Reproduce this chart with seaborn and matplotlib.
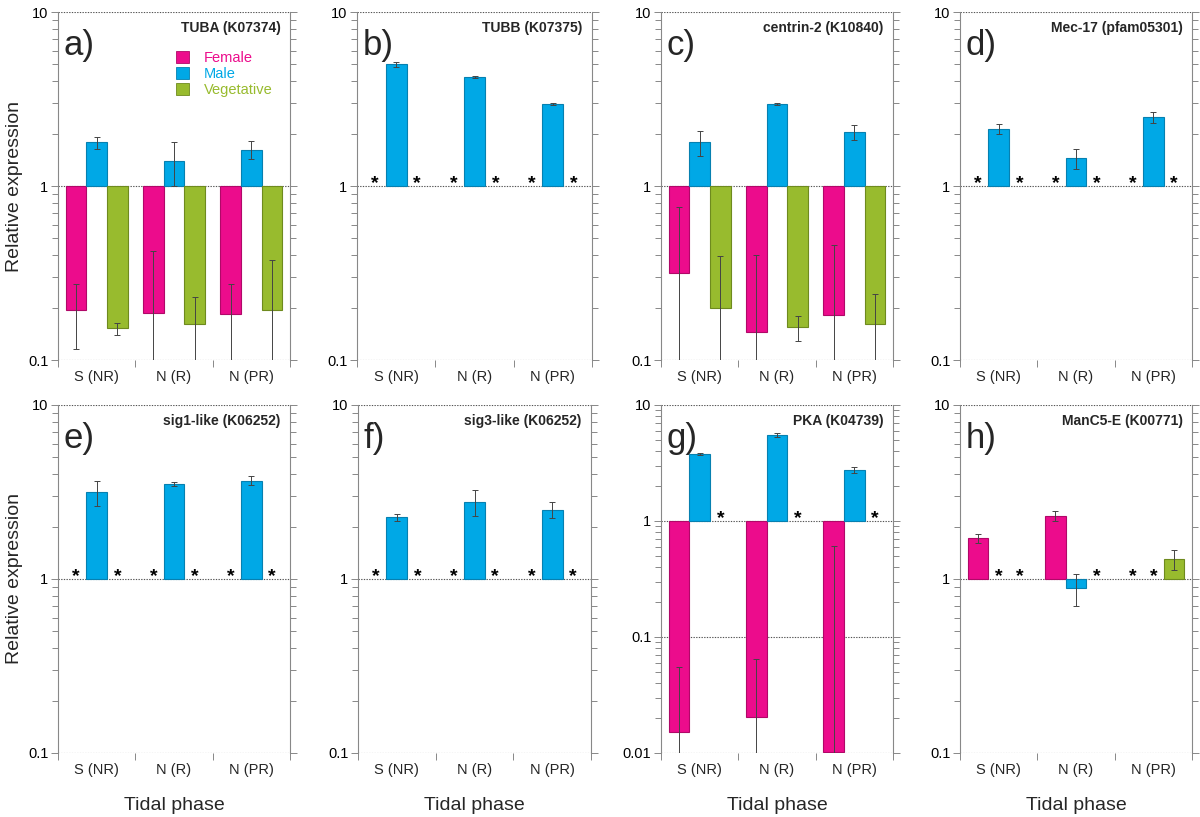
import numpy as np
import pandas as pd
import matplotlib
matplotlib.use("Agg")
import matplotlib.pyplot as plt
from matplotlib import ticker
from matplotlib.patches import Patch
import seaborn as sns

# ---------------- data (None = no expression, marked with *) ----------------
phases = ["S (NR)", "N (R)", "N (PR)"]
sexes = ["Female", "Male", "Vegetative"]

a_title = "TUBA (K07374)"
a_mean = [[0.195, 0.187, 0.183], [1.78, 1.39, 1.62], [0.152, 0.160, 0.193]]
a_sd = [[0.08, 0.236, 0.09], [0.14, 0.39, 0.19], [0.012, 0.071, 0.183]]

b_title = "TUBB (K07375)"
b_mean = [[None, None, None], [5.0, 4.23, 2.96], [None, None, None]]
b_sd = [[None, None, None], [0.18, 0.06, 0.05], [None, None, None]]

c_title = "centrin-2 (K10840)"
c_mean = [[0.315, 0.144, 0.181], [1.78, 2.96, 2.03], [0.198, 0.154, 0.161]]
c_sd = [[0.445, 0.256, 0.277], [0.30, 0.02, 0.20], [0.20, 0.025, 0.078]]

d_title = "Mec-17 (pfam05301)"
d_mean = [[None, None, None], [2.13, 1.44, 2.48], [None, None, None]]
d_sd = [[None, None, None], [0.13, 0.19, 0.17], [None, None, None]]

e_title = "sig1-like (K06252)"
e_mean = [[None, None, None], [3.16, 3.51, 3.67], [None, None, None]]
e_sd = [[None, None, None], [0.52, 0.08, 0.22], [None, None, None]]

f_title = "sig3-like (K06252)"
f_mean = [[None, None, None], [2.26, 2.77, 2.50], [None, None, None]]
f_sd = [[None, None, None], [0.10, 0.47, 0.27], [None, None, None]]

g_title = "PKA (K04739)"
g_mean = [[0.0151, 0.0205, 0.0103], [3.78, 5.52, 2.75], [None, None, None]]
g_sd = [[0.0404, 0.044, 0.60], [0.10, 0.25, 0.16], [None, None, None]]

h_title = "ManC5-E (K00771)"
h_mean = [[1.72, 2.31, None], [None, 0.884, None], [None, None, 1.30]]
h_sd = [[0.10, 0.16, None], [None, 0.18, None], [None, None, 0.17]]

# ---------------- style ----------------
colors = ["#EC0C8C", "#00A8E6", "#98BB2E"]
edges = ["#B00868", "#0680B0", "#6E8A1E"]

sns.set_style("white")
plt.rcParams["font.family"] = ["Liberation Sans", "DejaVu Sans"]

fig = plt.figure(figsize=(12, 8.17), dpi=100)
W, H = 1200, 817

panels = [
    ("a)", a_title, a_mean, a_sd, (58, 290), (12, 360), 0.1),
    ("b)", b_title, b_mean, b_sd, (357, 592), (12, 360), 0.1),
    ("c)", c_title, c_mean, c_sd, (661, 893), (12, 360), 0.1),
    ("d)", d_title, d_mean, d_sd, (960, 1192), (12, 360), 0.1),
    ("e)", e_title, e_mean, e_sd, (58, 290), (405, 753), 0.1),
    ("f)", f_title, f_mean, f_sd, (358, 591), (405, 753), 0.1),
    ("g)", g_title, g_mean, g_sd, (661, 893), (405, 753), 0.01),
    ("h)", h_title, h_mean, h_sd, (960, 1192), (405, 753), 0.1),
]

bar_w = 0.8
for idx, (letter, title, means, sds, (xl, xr), (yt, yb), ymin) in enumerate(panels):
    ax = fig.add_axes([xl / W, 1 - yb / H, (xr - xl) / W, (yb - yt) / H])

    rows = []
    for si, s in enumerate(sexes):
        for pi, p in enumerate(phases):
            v = means[si][pi]
            if v is not None:
                rows.append({"phase": p, "sex": s, "h": v - 1.0})
    df = pd.DataFrame(rows, columns=["phase", "sex", "h"])

    sns.barplot(data=df, x="phase", y="h", hue="sex", order=phases,
                hue_order=sexes, palette=colors, saturation=1, dodge=True,
                errorbar=None, width=bar_w, bottom=1.0, linewidth=0.8,
                legend=False, ax=ax, zorder=3)
    # per-hue darker outlines
    for patch in ax.patches:
        fc = matplotlib.colors.to_hex(patch.get_facecolor())
        for c, ec in zip(colors, edges):
            if fc.lower() == c.lower():
                patch.set_edgecolor(ec)

    ax.set_yscale("log")
    ax.set_ylim(ymin, 10)
    ax.set_xlim(-0.5, 2.5)

    # error bars and stars
    for si in range(3):
        for pi in range(3):
            x = pi + (si - 1) * bar_w / 3
            v = means[si][pi]
            if v is None:
                ax.annotate("*", xy=(x, 1), xytext=(0, -1.2), textcoords="offset points",
                            ha="center", va="baseline", fontsize=14, fontweight="bold",
                            color="black", zorder=5)
                continue
            sd = sds[si][pi]
            lo = v - max(v - sd, 1e-6)
            ax.errorbar([x], [v], yerr=[[lo], [sd]], fmt="none", ecolor="#444444",
                        elinewidth=0.7, capsize=2.3, capthick=0.7, zorder=4)

    # axes styling
    ax.yaxis.set_major_locator(ticker.LogLocator(base=10, numticks=10))
    ax.yaxis.set_minor_locator(ticker.LogLocator(base=10, subs=np.arange(2, 10), numticks=20))
    ax.yaxis.set_major_formatter(ticker.FuncFormatter(lambda v, p: f"{v:g}"))
    ax.yaxis.set_minor_formatter(ticker.NullFormatter())
    ax.tick_params(axis="y", which="both", left=True, right=True, direction="out",
                   color="#888888", width=0.7, labelsize=10.5, pad=2, labelcolor="black")
    ax.tick_params(axis="y", which="major", length=5)
    ax.tick_params(axis="y", which="minor", length=4)

    ax.set_xticks([0, 1, 2])
    ax.set_xticklabels(phases)
    ax.set_xticks([-0.5, 0.5, 1.5, 2.5], minor=True)
    ax.tick_params(axis="x", which="major", length=0, pad=7, labelsize=10.5)
    ax.tick_params(axis="x", which="minor", bottom=True, length=5, width=0.7,
                   direction="out", color="#888888")

    ax.set_xlabel("")
    ax.set_ylabel("")
    ax.grid(True, axis="y", which="major", linestyle=(0, (1.2, 1.2)),
            color="#555555", linewidth=0.8)
    ax.grid(False, axis="x")
    ax.set_axisbelow(True)
    for side in ["top", "bottom"]:
        ax.spines[side].set_visible(False)
    for side in ["left", "right"]:
        ax.spines[side].set_visible(True)
        ax.spines[side].set_color("#888888")
        ax.spines[side].set_linewidth(0.8)

    ax.text(0.025, 0.95, letter, transform=ax.transAxes, fontsize=25,
            ha="left", va="top")
    ax.text(0.96, 0.955, title, transform=ax.transAxes, fontsize=10,
            fontweight="bold", ha="right", va="center")

    if idx == 0:
        handles = [Patch(facecolor=c, edgecolor=ec, linewidth=0.6)
                   for c, ec in zip(colors, edges)]
        ax.legend(handles, sexes, loc="upper left", bbox_to_anchor=(0.51, 0.888),
                  frameon=False, handlelength=0.9, handleheight=0.9,
                  handletextpad=1.0, labelspacing=0.12, fontsize=10.5,
                  labelcolor=colors, borderaxespad=0, borderpad=0)

# shared labels
for (yt, yb) in [(12, 360), (405, 753)]:
    fig.text(15 / W, 1 - (yt + yb) / 2 / H, "Relative expression", rotation=90,
             ha="center", va="center", fontsize=14)
for (xl, xr) in [(58, 290), (358, 591), (661, 893), (960, 1192)]:
    fig.text((xl + xr) / 2 / W, 1 - 805 / H, "Tidal phase", ha="center",
             va="center", fontsize=14)

fig.savefig("out.png", dpi=100)
